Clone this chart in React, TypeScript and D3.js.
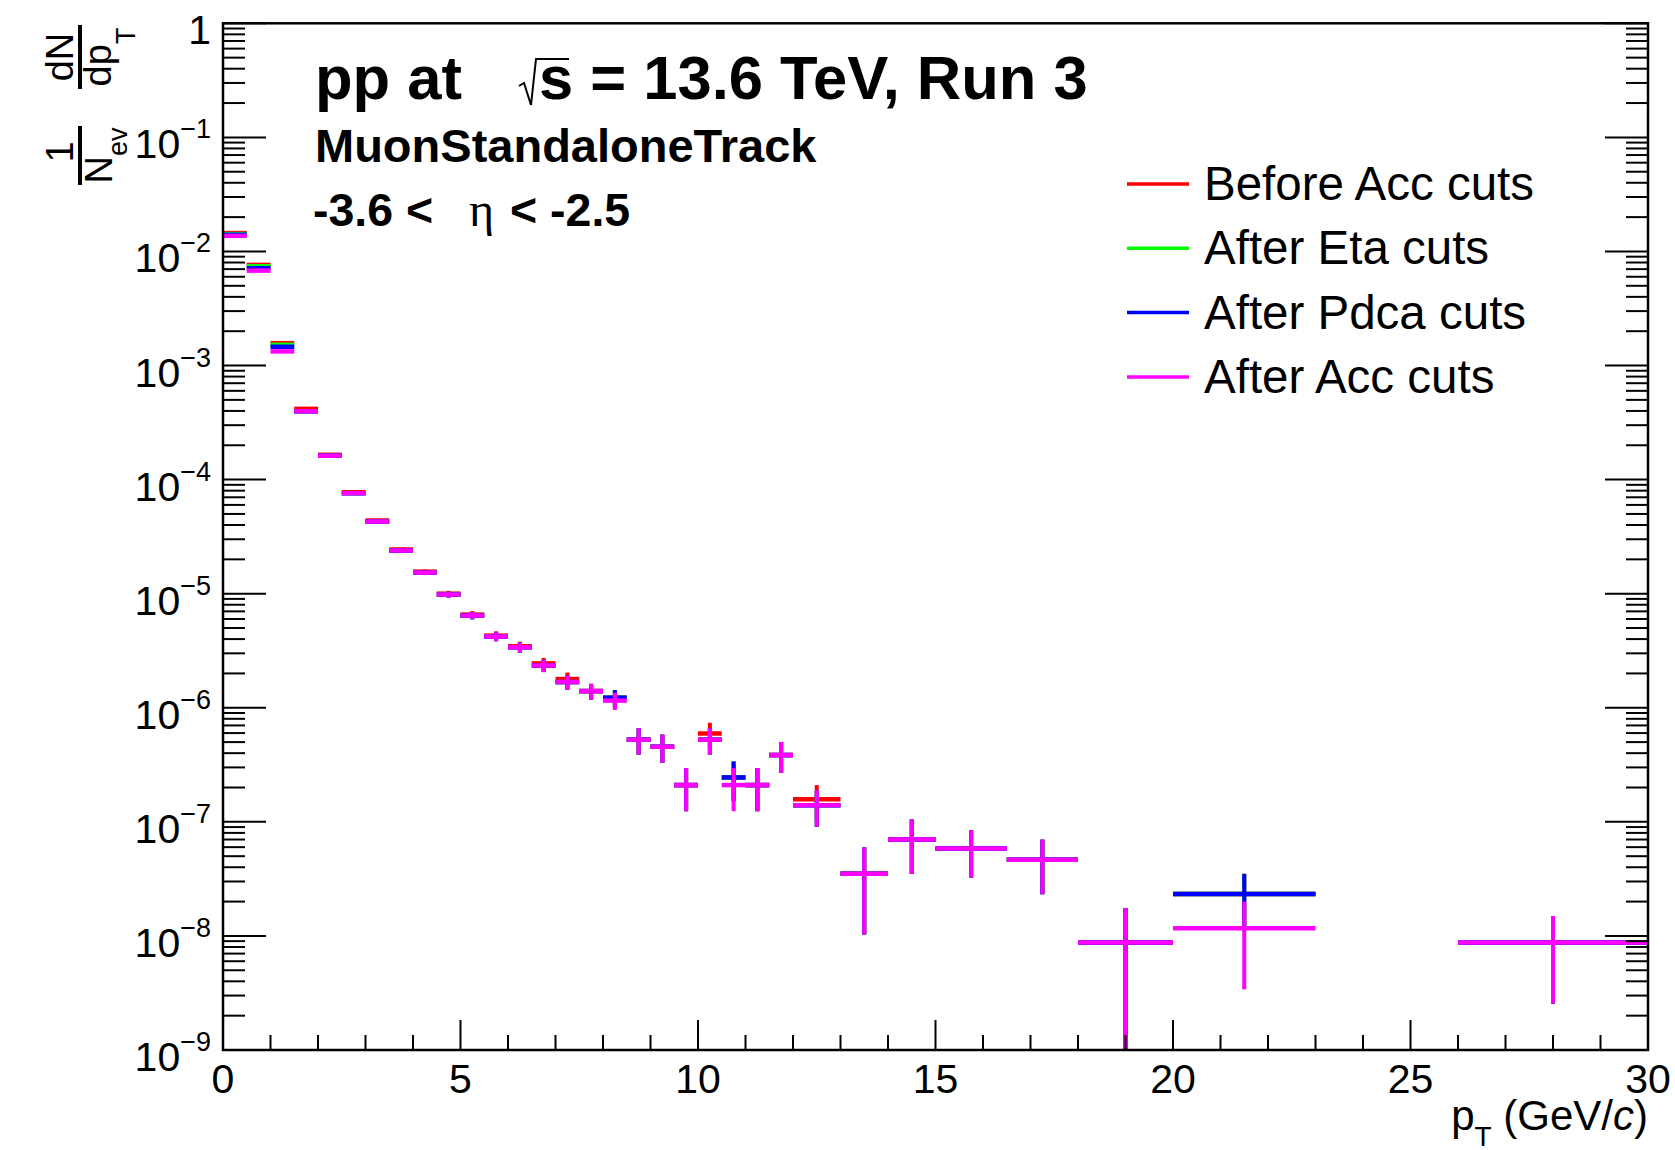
import React from "react";
import * as d3 from "d3";

// bin edges in pT (GeV/c)
const binEdges = [
  0, 0.5, 1, 1.5, 2, 2.5, 3, 3.5, 4, 4.5, 5, 5.5, 6, 6.5, 7, 7.5, 8, 8.5, 9,
  9.5, 10, 10.5, 11, 11.5, 12, 13, 14, 15, 16.5, 18, 20, 23, 26, 30,
];

const beforeAcc = [
  1.45e-2, 7.62e-3, 1.57e-3, 4.17e-4, 1.65e-4, 7.75e-5, 4.38e-5, 2.44e-5,
  1.56e-5, 1.0e-5, 6.56e-6, 4.29e-6, 3.46e-6, 2.45e-6, 1.785e-6, 1.4e-6,
  1.225e-6, 5.25e-7, 4.55e-7, 2.1e-7, 5.95e-7, 2.45e-7, 2.1e-7, 3.85e-7,
  1.575e-7, 3.5e-8, 7.0e-8, 5.85e-8, 4.65e-8, 8.75e-9, 2.33e-8, 0, 8.75e-9,
];
const beforeAccErr = [
  2.2e-5, 1.5e-5, 6.8e-6, 3.8e-6, 2.4e-6, 1.6e-6, 1.2e-6, 9.2e-7, 7.4e-7,
  6.0e-7, 4.8e-7, 3.9e-7, 3.4e-7, 2.9e-7, 2.5e-7, 2.2e-7, 2.07e-7, 1.36e-7,
  1.26e-7, 8.6e-8, 1.44e-7, 9.3e-8, 8.6e-8, 1.16e-7, 5.25e-8, 2.47e-8,
  3.5e-8, 2.6e-8, 2.33e-8, 8.75e-9, 1.17e-8, 0, 6.2e-9,
];

const afterEta = [
  1.42e-2, 7.42e-3, 1.52e-3, 3.97e-4, 1.62e-4, 7.6e-5, 4.29e-5, 2.39e-5,
  1.53e-5, 9.82e-6, 6.43e-6, 4.21e-6, 3.39e-6, 2.345e-6, 1.68e-6, 1.4e-6,
  1.225e-6, 5.25e-7, 4.55e-7, 2.1e-7, 5.25e-7, 2.45e-7, 2.1e-7, 3.85e-7,
  1.4e-7, 3.5e-8, 7.0e-8, 5.85e-8, 4.65e-8, 8.75e-9, 2.33e-8, 0, 8.75e-9,
];
const afterEtaErr = [
  2.2e-5, 1.5e-5, 6.8e-6, 3.7e-6, 2.4e-6, 1.6e-6, 1.2e-6, 9.1e-7, 7.3e-7,
  5.9e-7, 4.7e-7, 3.8e-7, 3.4e-7, 2.9e-7, 2.4e-7, 2.2e-7, 2.07e-7, 1.36e-7,
  1.26e-7, 8.6e-8, 1.36e-7, 9.3e-8, 8.6e-8, 1.16e-7, 4.95e-8, 2.47e-8,
  3.5e-8, 2.6e-8, 2.33e-8, 8.75e-9, 1.17e-8, 0, 6.2e-9,
];

const afterPdca = [
  1.4e-2, 7.13e-3, 1.46e-3, 3.97e-4, 1.62e-4, 7.6e-5, 4.29e-5, 2.39e-5,
  1.53e-5, 9.82e-6, 6.43e-6, 4.21e-6, 3.39e-6, 2.345e-6, 1.68e-6, 1.4e-6,
  1.225e-6, 5.25e-7, 4.55e-7, 2.1e-7, 5.25e-7, 2.45e-7, 2.1e-7, 3.85e-7,
  1.4e-7, 3.5e-8, 7.0e-8, 5.85e-8, 4.65e-8, 8.75e-9, 2.33e-8, 0, 8.75e-9,
];
const afterPdcaErr = afterEtaErr.slice();

const afterAcc = [
  1.37e-2, 6.79e-3, 1.33e-3, 3.97e-4, 1.62e-4, 7.6e-5, 4.29e-5, 2.39e-5,
  1.53e-5, 9.82e-6, 6.43e-6, 4.21e-6, 3.39e-6, 2.345e-6, 1.68e-6, 1.4e-6,
  1.155e-6, 5.25e-7, 4.55e-7, 2.1e-7, 5.25e-7, 2.1e-7, 2.1e-7, 3.85e-7,
  1.4e-7, 3.5e-8, 7.0e-8, 5.85e-8, 4.65e-8, 8.75e-9, 1.17e-8, 0, 8.75e-9,
];
const afterAccErr = [
  2.2e-5, 1.5e-5, 6.8e-6, 3.7e-6, 2.4e-6, 1.6e-6, 1.2e-6, 9.1e-7, 7.3e-7,
  5.9e-7, 4.7e-7, 3.8e-7, 3.4e-7, 2.9e-7, 2.4e-7, 2.2e-7, 2.0e-7, 1.36e-7,
  1.26e-7, 8.6e-8, 1.36e-7, 8.6e-8, 8.6e-8, 1.16e-7, 4.95e-8, 2.47e-8,
  3.5e-8, 2.6e-8, 2.33e-8, 8.75e-9, 8.3e-9, 0, 6.2e-9,
];

const seriesNames = [
  "Before Acc cuts",
  "After Eta cuts",
  "After Pdca cuts",
  "After Acc cuts",
];
const seriesColors = ["#ff0000", "#00ff00", "#0000ff", "#ff00ff"];

const xTicksMajor = [0, 5, 10, 15, 20, 25, 30];
const yDecades = [0, -1, -2, -3, -4, -5, -6, -7, -8, -9];

const FONT = "'Liberation Sans', Arial, Helvetica, sans-serif";

export default function App() {
  const width = 1675;
  const height = 1150;
  const plot = { left: 223, right: 1648, top: 23.3, bottom: 1050 };

  const x = d3.scaleLinear().domain([0, 30]).range([plot.left, plot.right]);
  const y = d3
    .scaleLog()
    .domain([1e-9, 1])
    .range([plot.bottom, plot.top]);

  const series = [
    { values: beforeAcc, errors: beforeAccErr },
    { values: afterEta, errors: afterEtaErr },
    { values: afterPdca, errors: afterPdcaErr },
    { values: afterAcc, errors: afterAccErr },
  ].map((s, i) => ({ ...s, name: seriesNames[i], color: seriesColors[i] }));

  const xMinor = d3.range(0, 31, 1).filter((v) => v % 5 !== 0);
  const yMinor: number[] = [];
  for (let k = -9; k < 0; k++) {
    for (let m = 2; m <= 9; m++) yMinor.push(m * Math.pow(10, k));
  }

  const majorY = 43;
  const minorY = 22;
  const majorX = 30;
  const minorX = 15;

  return (
    <div style={{ position: "absolute", left: 0, top: 0 }}>
      <svg
        width={width}
        height={height}
        style={{ display: "block", background: "#fff", fontFamily: FONT }}
      >
        <rect x={0} y={0} width={width} height={height} fill="#fff" />

        {/* data */}
        <g>
          {series.map((s) => (
            <g key={s.name} stroke={s.color} fill="none">
              {s.values.map((v, i) => {
                if (!(v > 0)) return null;
                const x0 = x(binEdges[i]);
                const x1 = x(binEdges[i + 1]);
                const xc = (x0 + x1) / 2;
                const e = s.errors[i];
                const hi = Math.min(v + e, 1);
                const lo = Math.max(v - e, 1e-9);
                return (
                  <g key={i}>
                    <line
                      x1={x0}
                      x2={x1}
                      y1={y(v)}
                      y2={y(v)}
                      strokeWidth={4.5}
                    />
                    <line
                      x1={xc}
                      x2={xc}
                      y1={y(hi)}
                      y2={y(lo)}
                      strokeWidth={4}
                    />
                  </g>
                );
              })}
            </g>
          ))}
        </g>

        {/* frame */}
        <g stroke="#000" fill="none">
          <rect
            x={plot.left}
            y={plot.top}
            width={plot.right - plot.left}
            height={plot.bottom - plot.top}
            strokeWidth={2.5}
          />
          {xTicksMajor.map((t) => (
            <line
              key={"xM" + t}
              x1={x(t)}
              x2={x(t)}
              y1={plot.bottom}
              y2={plot.bottom - majorX}
              strokeWidth={2}
            />
          ))}
          {xMinor.map((t) => (
            <line
              key={"xm" + t}
              x1={x(t)}
              x2={x(t)}
              y1={plot.bottom}
              y2={plot.bottom - minorX}
              strokeWidth={2}
            />
          ))}
          {yDecades.map((k) => (
            <g key={"yM" + k}>
              <line
                x1={plot.left}
                x2={plot.left + majorY}
                y1={y(Math.pow(10, k))}
                y2={y(Math.pow(10, k))}
                strokeWidth={2}
              />
              <line
                x1={plot.right}
                x2={plot.right - majorY}
                y1={y(Math.pow(10, k))}
                y2={y(Math.pow(10, k))}
                strokeWidth={2}
              />
            </g>
          ))}
          {yMinor.map((t, i) => (
            <g key={"ym" + i}>
              <line
                x1={plot.left}
                x2={plot.left + minorY}
                y1={y(t)}
                y2={y(t)}
                strokeWidth={2}
              />
              <line
                x1={plot.right}
                x2={plot.right - minorY}
                y1={y(t)}
                y2={y(t)}
                strokeWidth={2}
              />
            </g>
          ))}
        </g>

        {/* tick labels */}
        <g fill="#000" fontSize={41}>
          {xTicksMajor.map((t) => (
            <text key={"xl" + t} x={x(t)} y={1093} textAnchor="middle">
              {t}
            </text>
          ))}
          {yDecades.map((k) => (
            <text
              key={"yl" + k}
              x={211}
              y={y(Math.pow(10, k)) + 21}
              textAnchor="end"
            >
              {k === 0 ? (
                "1"
              ) : (
                <>
                  <tspan>10</tspan>
                  <tspan fontSize={27} dy={-20}>
                    {"\u2212" + Math.abs(k)}
                  </tspan>
                </>
              )}
            </text>
          ))}
        </g>

        {/* x title */}
        <text x={1648} y={1130} textAnchor="end" fontSize={42} fill="#000">
          p
          <tspan fontSize={28} dy={16}>
            T
          </tspan>
          <tspan dy={-16}> (GeV/</tspan>
          <tspan fontStyle="italic">c</tspan>
          <tspan>)</tspan>
        </text>

        {/* y title: 1/N_ev dN/dp_T */}
        <g transform="translate(80,155.5) rotate(-90)" fill="#000">
          <line x1={-29.5} x2={29.5} y1={0} y2={0} stroke="#000" strokeWidth={4} />
          <text x={3.5} y={-7} textAnchor="middle" fontSize={38}>
            1
          </text>
          <text x={0} y={32} textAnchor="middle" fontSize={38}>
            N
            <tspan fontSize={27} dy={15}>
              ev
            </tspan>
          </text>
        </g>
        <g transform="translate(80,57) rotate(-90)" fill="#000">
          <line x1={-32} x2={32} y1={0} y2={0} stroke="#000" strokeWidth={4} />
          <text x={0} y={-7} textAnchor="middle" fontSize={38}>
            dN
          </text>
          <text x={0} y={31} textAnchor="middle" fontSize={38}>
            dp
            <tspan fontSize={27} dy={24}>
              T
            </tspan>
          </text>
        </g>

        {/* header */}
        <g fill="#000">
          <text x={315} y={99} fontSize={61.5} fontWeight="bold">
            pp at
          </text>
          <path
            d="M519,86 L524,83 L531,105 L536,59 L569,59"
            fill="none"
            stroke="#000"
            strokeWidth={2}
          />
          <text x={539} y={99} fontSize={61.5} fontWeight="bold">
            s = 13.6 TeV, Run 3
          </text>
          <text x={315} y={162} fontSize={47} fontWeight="bold">
            MuonStandaloneTrack
          </text>
          <text x={313} y={226} fontSize={46.5} fontWeight="bold">
            -3.6 &lt;
          </text>
          <text
            x={469}
            y={226}
            fontSize={48}
            fontFamily="'Liberation Serif', 'Times New Roman', serif"
          >
            η
          </text>
          <text x={510} y={226} fontSize={46.5} fontWeight="bold">
            &lt; -2.5
          </text>
        </g>

        {/* legend */}
        <g>
          {series.map((s, i) => {
            const ly = 184 + i * 64.3;
            return (
              <g key={"lg" + i}>
                <line
                  x1={1127}
                  x2={1189}
                  y1={ly}
                  y2={ly}
                  stroke={s.color}
                  strokeWidth={3.5}
                />
                <text x={1204} y={ly + 16} fontSize={47.5} fill="#000">
                  {s.name}
                </text>
              </g>
            );
          })}
        </g>
      </svg>
    </div>
  );
}
